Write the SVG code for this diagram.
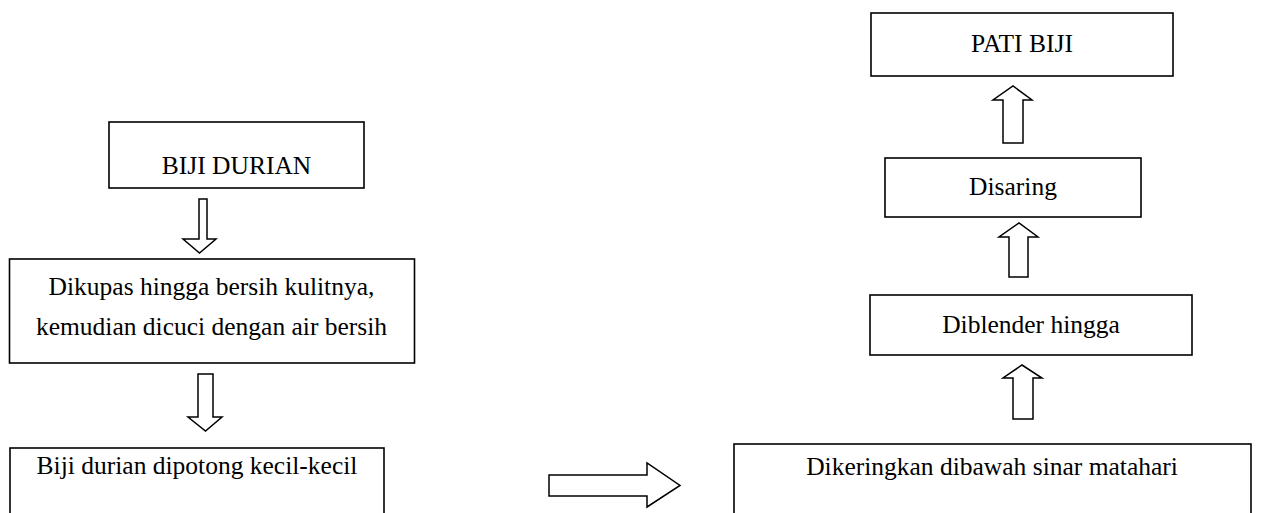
<svg xmlns="http://www.w3.org/2000/svg" width="1261" height="513" viewBox="0 0 1261 513">
<style>
.box{fill:#fff;stroke:#000;stroke-width:1.6}
.arr{fill:#fff;stroke:#000;stroke-width:1.5;stroke-linejoin:miter}
text{font-family:"Liberation Serif","Times New Roman",serif;font-size:25.5px;fill:#000;text-anchor:middle}
</style>
<rect width="1261" height="513" fill="#fff"/>
<g id="connectors">
<polygon class="arr" points="199,199 207,199 207,239 216,239 199.5,253 183,239 199,239"/>
<polygon class="arr" points="198,374 213,374 213,417 222,417 205.5,431 188,417 198,417"/>
<polygon class="arr" points="549,475 647,475 647,463 680,485.5 647,507 647,496 549,496"/>
<polygon class="arr" points="1013,419 1033,419 1033,378 1042,378 1022,365 1003,378 1013,378"/>
<polygon class="arr" points="1009,277 1028,277 1028,237 1038,237 1019,223 999,237 1009,237"/>
<polygon class="arr" points="1003,143 1023,143 1023,100 1032,100 1013,86 993,100 1003,100"/>
</g>
<g id="n1"><rect class="box" x="109" y="122" width="255" height="66"/><text x="236.5" y="174">BIJI DURIAN</text></g>
<g id="n2"><rect class="box" x="9.5" y="259" width="405" height="104"/><text x="211.5" y="295">Dikupas hingga bersih kulitnya,</text><text x="211.5" y="335">kemudian dicuci dengan air bersih</text></g>
<g id="n3"><rect class="box" x="10" y="448" width="374" height="80"/><text x="197" y="474">Biji durian dipotong kecil-kecil</text></g>
<g id="n4"><rect class="box" x="734" y="444" width="517" height="80"/><text x="992" y="475">Dikeringkan dibawah sinar matahari</text></g>
<g id="n5"><rect class="box" x="870" y="295" width="322" height="60"/><text x="1031" y="333">Diblender hingga</text></g>
<g id="n6"><rect class="box" x="885" y="158" width="256" height="59"/><text x="1013" y="195">Disaring</text></g>
<g id="n7"><rect class="box" x="871" y="13" width="302" height="63"/><text x="1022" y="52">PATI BIJI</text></g>
</svg>
